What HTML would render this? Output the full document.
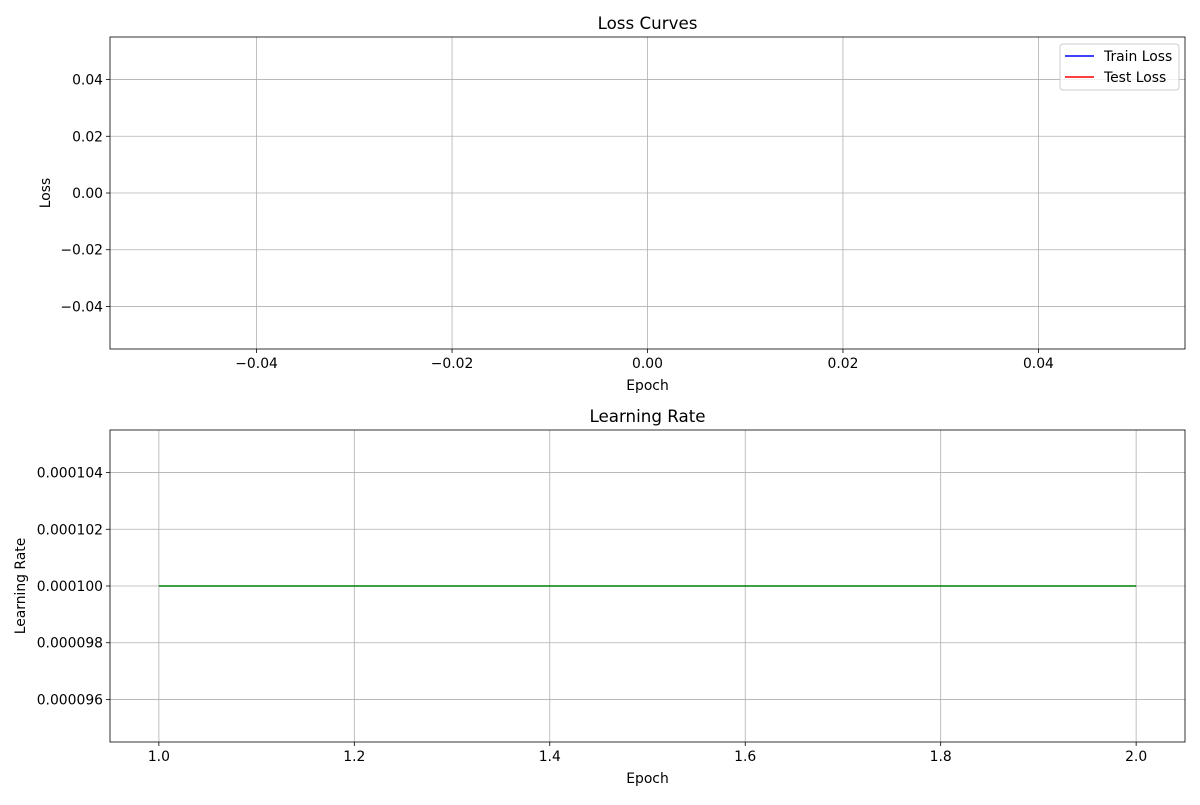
<!DOCTYPE html>
<html><head><meta charset="utf-8"><style>
body{margin:0;background:#fff}
svg{font-family:"DejaVu Sans","Liberation Sans",sans-serif}
</style></head><body>
<svg id="chart" width="1200" height="800" xmlns="http://www.w3.org/2000/svg"></svg>
<script>
// Loss curves data (empty in reference)
const lossEpochs = [];
const trainLoss = [];
const testLoss = [];
const lossXTicks = [-0.04, -0.02, 0.00, 0.02, 0.04];
const lossXLabels = ["\u22120.04", "\u22120.02", "0.00", "0.02", "0.04"];
const lossYTicks = [0.04, 0.02, 0.00, -0.02, -0.04];
const lossYLabels = ["0.04", "0.02", "0.00", "\u22120.02", "\u22120.04"];
// Learning rate data
const lrEpochs = [1, 2];
const lrValues = [0.0001, 0.0001];
const lrXTicks = [1.0, 1.2, 1.4, 1.6, 1.8, 2.0];
const lrXLabels = ["1.0", "1.2", "1.4", "1.6", "1.8", "2.0"];
const lrYTicks = [0.000104, 0.000102, 0.000100, 0.000098, 0.000096];
const lrYLabels = ["0.000104", "0.000102", "0.000100", "0.000098", "0.000096"];

const NS = "http://www.w3.org/2000/svg";
const svg = document.getElementById("chart");
function mk(tag, attrs, parent, text) {
  const e = document.createElementNS(NS, tag);
  for (const k in attrs) e.setAttribute(k, attrs[k]);
  if (text !== undefined) e.textContent = text;
  (parent || svg).appendChild(e);
  return e;
}

function panel(o) {
  const g = mk("g", {});
  
  
  const L = 110, R = 1185, T = o.top, B = o.top + 312;
  const sx = v => L + (v - o.xmin) / (o.xmax - o.xmin) * (R - L);
  const sy = v => B - (v - o.ymin) / (o.ymax - o.ymin) * (B - T);
  o.xt.forEach((v, i) => {
    const x = sx(v);
    const gl = mk("line", {x1: x, x2: x, y1: T, y2: B, stroke: "#b0b0b0", "stroke-width": 0.8}, g);
    
    
    mk("line", {x1: x, x2: x, y1: B, y2: B + 4, stroke: "#000", "stroke-width": 0.8}, g);
    const t = mk("text", {x: x, y: B + 19, "text-anchor": "middle", "font-size": 13.9}, g, o.xl[i]);
    
    
  });
  o.yt.forEach((v, i) => {
    const y = sy(v);
    const gl = mk("line", {x1: L, x2: R, y1: y, y2: y, stroke: "#b0b0b0", "stroke-width": 0.8}, g);
    
    
    mk("line", {x1: L - 4, x2: L, y1: y, y2: y, stroke: "#000", "stroke-width": 0.8}, g);
    const t = mk("text", {x: L - 7, y: y + 5, "text-anchor": "end", "font-size": 13.9}, g, o.yl[i]);
    
    
  });
  o.series.forEach(s => {
    if (!s.x.length) return;
    const d = s.x.map((v, i) => (i ? "L" : "M") + sx(v) + "," + sy(s.y[i])).join(" ");
    const p = mk("path", {d: d, fill: "none", stroke: s.color, "stroke-width": 1.5}, g);
    
    
  });
  const fr = mk("rect", {x: L, y: T, width: R - L, height: B - T, fill: "none", stroke: "#000", "stroke-width": 0.8}, g);
  
  
  const ti = mk("text", {x: (L + R) / 2, y: T - 8, "text-anchor": "middle", "font-size": 16.7}, g, o.title);
  
  
  const xa = mk("text", {x: (L + R) / 2, y: B + 41, "text-anchor": "middle", "font-size": 13.9}, g, "Epoch");
  
  
  const yx = o.ylabX, yy = (T + B) / 2;
  const ya = mk("text", {x: yx, y: yy, "text-anchor": "middle", "font-size": 13.9, transform: `rotate(-90 ${yx} ${yy})`}, g, o.ylabel);
  
  
}

panel({name: "loss-curves-panel", top: 37, xmin: -0.055, xmax: 0.055, ymin: -0.055, ymax: 0.055,
  xt: lossXTicks, xl: lossXLabels, yt: lossYTicks, yl: lossYLabels, title: "Loss Curves", ylabel: "Loss", ylabX: 50,
  series: [{x: lossEpochs, y: trainLoss, color: "blue", name: "train-loss-line"},
           {x: lossEpochs, y: testLoss, color: "red", name: "test-loss-line"}]});
panel({name: "learning-rate-panel", top: 430, xmin: 0.95, xmax: 2.05, ymin: 0.0000945, ymax: 0.0001055,
  xt: lrXTicks, xl: lrXLabels, yt: lrYTicks, yl: lrYLabels, title: "Learning Rate", ylabel: "Learning Rate", ylabX: 25,
  series: [{x: lrEpochs, y: lrValues, color: "green", name: "learning-rate-line"}]});

const lg = mk("g", {});


mk("rect", {x: 1060, y: 44, width: 119, height: 46, rx: 3, fill: "#fff", "fill-opacity": 0.8, stroke: "#ccc"}, lg);
[["Train Loss", "blue", 56], ["Test Loss", "red", 77]].forEach(([t, c, y]) => {
  const e = mk("g", {}, lg);
  
  
  mk("line", {x1: 1065, x2: 1094, y1: y, y2: y, stroke: c, "stroke-width": 1.5}, e);
  mk("text", {x: 1104, y: y + 5, "font-size": 13.9}, e, t);
});
</script>
</body></html>
